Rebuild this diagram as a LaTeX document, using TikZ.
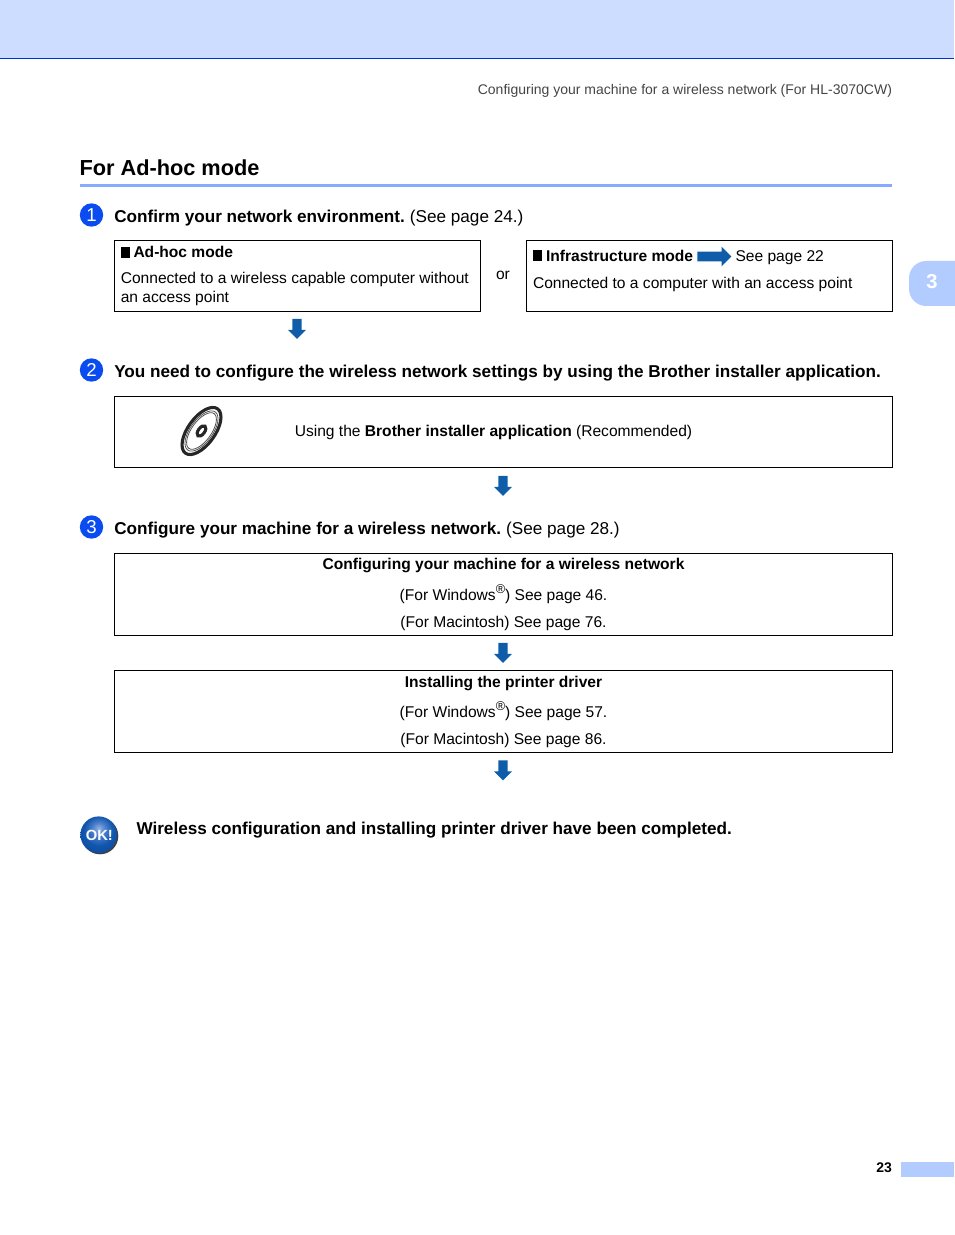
\documentclass[tikz,border=0pt]{standalone}
\usepackage{fontspec}
\setmainfont{Liberation Sans}
\usetikzlibrary{shapes.arrows}
\definecolor{bandblue}{HTML}{CCDDFF}
\definecolor{ruleblue}{HTML}{0033CC}
\definecolor{headrule}{HTML}{88AAFF}
\definecolor{tabblue}{HTML}{B3CCFF}
\definecolor{arrowblue}{HTML}{0F5CA8}
\definecolor{stepblue}{HTML}{0A4CF0}
\definecolor{hdrgray}{HTML}{444444}
\pgfdeclareradialshading{okball}{\pgfpoint{0bp}{9bp}}{rgb(0bp)=(0.58,0.70,0.90);rgb(9bp)=(0.30,0.50,0.80);rgb(20bp)=(0.07,0.34,0.68);rgb(34bp)=(0.04,0.28,0.62);rgb(50bp)=(0.04,0.28,0.62)}
\newcommand{\regmark}{\raisebox{0.42em}{\fontsize{8.2}{8}\selectfont\textregistered}}
\tikzset{
  x=0.6415bp,y=-0.6415bp,
  txt/.style={anchor=base west,inner sep=0pt,outer sep=0pt,font=\fontsize{10.03}{12}\selectfont},
  btxt/.style={txt,font=\bfseries\fontsize{10.03}{12}\selectfont},
  ctxt/.style={txt,anchor=base},
  cbtxt/.style={btxt,anchor=base},
  stepttl/.style={txt,font=\fontsize{11.04}{13}\selectfont},
  bstepttl/.style={txt,font=\bfseries\fontsize{11.04}{13}\selectfont},
  boxframe/.style={draw=black,line width=0.75pt},
  stepnum/.style={circle,fill=stepblue,minimum size=15bp,inner sep=0pt,text=white,font=\fontsize{12}{12}\selectfont},
  downarr/.style={single arrow,fill=arrowblue,draw=none,shape border rotate=270,minimum height=12.8bp,inner sep=2.8bp,single arrow head extend=2.7bp,single arrow tip angle=90},
  rightarr/.style={single arrow,fill=arrowblue,draw=none,minimum height=21.8bp,inner sep=2.9bp,single arrow head extend=3.2bp,single arrow tip angle=90},
  sq/.style={fill=black,draw=none},
  cdring/.style={draw=black!85,line width=2pt},
  cdthin/.style={draw=black!70,line width=0.5pt},
}
\begin{document}
\begin{tikzpicture}
\useasboundingbox (0,0) rectangle (954,1235);
% header
\fill[bandblue] (0,0) rectangle (954,58);
\draw[ruleblue,line width=0.6pt] (0,58.5) -- (954,58.5);
\node[txt,anchor=base east,text=hdrgray,font=\fontsize{9.02}{11}\selectfont] (hdr) at (892,95) {Configuring your machine for a wireless network (For HL-3070CW)};
% title
\node[txt,font=\bfseries\fontsize{14}{16}\selectfont] (title) at (79.5,176) {For Ad-hoc mode};
\fill[headrule] (79.5,184) rectangle (892,187);
% chapter tab
\fill[tabblue,rounded corners=11bp] (909,261) rectangle (975,306);
\node[ctxt,text=white,font=\bfseries\fontsize{13}{15}\selectfont] (tab) at (932,289) {3};
% step 1
\node[stepnum] (s1) at (91.5,215) {1};
\node[stepttl] (s1t) at (114.3,223) {\textbf{Confirm your network environment.}\hspace{-0.8bp} (See page 24.)};
\draw[boxframe] (114.5,240.5) rectangle (480.5,311.5);
\fill[sq] (121.3,247) rectangle (129.5,258);
\node[btxt] (a1) at (133.5,258) {Ad-hoc mode};
\node[txt] (a2) at (120.8,284) {Connected to a wireless capable computer without};
\node[txt] (a3) at (120.8,303) {an access point};
\node[ctxt] (or) at (503,280) {or};
\draw[boxframe] (526.5,240.5) rectangle (892.5,311.5);
\fill[sq] (533.3,250) rectangle (541.5,261);
\node[btxt] (b1) at (546,262) {Infrastructure mode};
\node[rightarr] (barr) at (712,256.5) {};
\node[txt] (b2) at (735.5,262) {See page 22};
\node[txt] (b3) at (533,289) {Connected to a computer with an access point};
\node[downarr] (d1) at (297,326.5) {};
% step 2
\node[stepnum] (s2) at (91.5,370) {2};
\node[bstepttl] (s2t) at (114.3,377) {You need to configure the wireless network settings by using the Brother installer application.};
\draw[boxframe] (114.5,396.5) rectangle (892.5,467.5);
\begin{scope}[shift={(201.5,431)},rotate=54]
  \draw[cdring] (0,0) ellipse [x radius=27.4,y radius=13.5];
  \draw[cdthin] (0,0) ellipse [x radius=23.5,y radius=11.2];
  \draw[cdthin] (0,0) ellipse [x radius=21.5,y radius=9.8];
  \draw[cdring] (0,0) ellipse [x radius=6,y radius=3.2];
\end{scope}
\node[txt] (c1) at (294.8,436) {Using the \textbf{Brother installer application} (Recommended)};
\node[downarr] (d2) at (503,483.5) {};
% step 3
\node[stepnum] (s3) at (91.5,527) {3};
\node[stepttl] (s3t) at (114.3,534) {\textbf{Configure your machine for a wireless network.}\hspace{-0.8bp} (See page 28.)};
\draw[boxframe] (114.5,553.5) rectangle (892.5,635.5);
\node[cbtxt] (e1) at (503.5,569) {Configuring your machine for a wireless network};
\node[ctxt] (e2) at (503.5,600) {(For Windows\regmark) See page 46.};
\node[ctxt] (e3) at (503.5,627) {(For Macintosh) See page 76.};
\node[downarr] (d3) at (503,650.5) {};
\draw[boxframe] (114.5,670.5) rectangle (892.5,752.5);
\node[cbtxt] (f1) at (503.5,687) {Installing the printer driver};
\node[ctxt] (f2) at (503.5,717) {(For Windows\regmark) See page 57.};
\node[ctxt] (f3) at (503.5,744) {(For Macintosh) See page 86.};
\node[downarr] (d4) at (503,768) {};
% OK
\fill[black!75] (100,836) circle [radius=18.3];
\shade[shading=okball] (98.7,834.7) circle [radius=18.3];
\node[ctxt,text=white,font=\bfseries\fontsize{9.5}{12}\selectfont] (ok) at (99.3,840.5) {OK!};
\node[bstepttl] (okt) at (136.5,834) {Wireless configuration and installing printer driver have been completed.};
% footer
\node[txt,anchor=base east,font=\bfseries\fontsize{9}{11}\selectfont] (pg) at (892,1172) {23};
\fill[tabblue] (901,1162) rectangle (954,1177);
\end{tikzpicture}
\end{document}
